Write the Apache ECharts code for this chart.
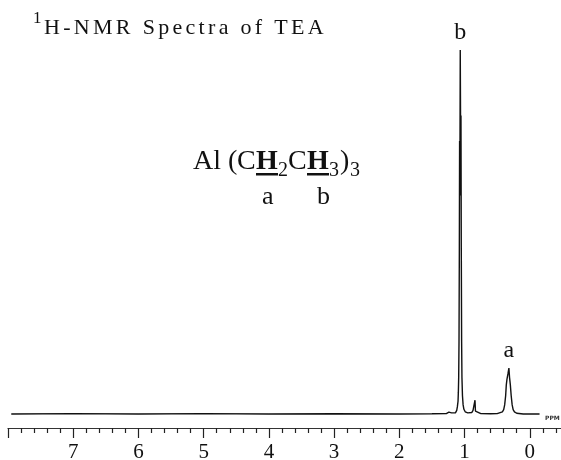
<!DOCTYPE html>
<html lang="en">

<head>
    <title>1H-NMR Spectra of TEA</title>
    <meta charset="UTF-8">
    <script src="https://cdn.jsdelivr.net/npm/echarts@6/dist/echarts.min.js"></script>
    <style>
        body { margin: 0; background: #fff; }
    </style>
</head>

<body>
    <div id="main" style="width: 561px;height:460px;"></div>
    <script>
        // chemical shift (ppm) of each sampled point of the trace
        var shifts = [7.95, 7.0, 6.0, 5.0, 4.0, 3.0, 2.0, 1.5, 1.28, 1.24, 1.22, 1.20, 1.17, 1.14, 1.12, 1.11, 1.10, 1.095,
            1.09, 1.085, 1.08, 1.076, 1.072, 1.066, 1.06, 1.055, 1.05, 1.045, 1.04, 1.032, 1.022, 1.01, 0.99, 0.95,
            0.89, 0.87, 0.855, 0.848, 0.84, 0.833, 0.82, 0.75, 0.6, 0.5, 0.47, 0.42, 0.40, 0.385, 0.37, 0.36, 0.35,
            0.335, 0.32, 0.31, 0.298, 0.285, 0.27, 0.255, 0.235, 0.2, 0.1, -0.15];
        // relative intensity (tallest line = 100)
        var intensity = [0, 0.1, 0, 0.1, 0, 0.05, 0, 0.05, 0.1, 0.5, 0.9, 0.3, 0.1, 0.3, 1.0, 2, 3.5, 6,
            10, 20, 45, 75, 60, 100, 75, 82, 45, 20, 10, 5, 2.5, 1.3, 0.6, 0.3,
            0.4, 1.0, 1.2, 1.0, 3.8, 0.8, 0.3, 0.1, 0.05, 0.1, 0.2, 0.6, 1.2, 2.5, 5, 8, 9.5,
            11, 12.6, 10, 8, 5, 2.5, 1.2, 0.6, 0.2, 0, 0];
        var peakNames = ['b', 'a'];
        var peakShifts = [1.066, 0.32];
        var peakHeights = [100, 12.6];
        var tickLabels = ['0', '1', '2', '3', '4', '5', '6', '7'];

        var serif = '"Liberation Serif", "DejaVu Serif", serif';
        var ink = '#111';

        var measureCtx = document.createElement('canvas').getContext('2d');

        // lay out a string char by char, the title is set with wide letter spacing
        function spacedText(str, x, y, size, spacing) {
            measureCtx.font = size + 'px ' + serif;
            var items = [];
            for (var i = 0; i < str.length; i++) {
                var ch = str[i];
                if (ch !== ' ') {
                    items.push({
                        type: 'text', x: x, y: y,
                        style: { text: ch, font: size + 'px ' + serif, fill: ink, verticalAlign: 'middle' }
                    });
                }
                x += measureCtx.measureText(ch).width + spacing;
            }
            return items;
        }

        function piece(text, x, y, size, bold) {
            return {
                type: 'text', x: x, y: y,
                style: {
                    text: text, font: (bold ? 'bold ' : '') + size + 'px ' + serif,
                    fill: ink, verticalAlign: 'middle'
                }
            };
        }

        var graphics = [piece('1', 33, 18.5, 17)].concat(spacedText('H-NMR Spectra of TEA', 44, 28, 22, 3.3));
        graphics.push(
            piece('Al', 193, 162, 28),
            piece('(', 228, 162, 28),
            piece('C', 237, 162, 28),
            piece('H', 256, 162, 28, true),
            piece('2', 278, 170.5, 20),
            piece('C', 288, 162, 28),
            piece('H', 307, 162, 28, true),
            piece('3', 329, 170.5, 20),
            piece(')', 340, 162, 28),
            piece('3', 350, 170.5, 20),
            { type: 'rect', shape: { x: 256, y: 173, width: 22, height: 2.5 }, style: { fill: ink } },
            { type: 'rect', shape: { x: 307, y: 173, width: 22, height: 2.5 }, style: { fill: ink } },
            piece('a', 262, 197, 26),
            piece('b', 317, 197, 26),
            {
                type: 'text', x: 545, y: 418,
                style: { text: 'PPM', font: 'bold 6px "DejaVu Sans", sans-serif', fill: '#333', verticalAlign: 'middle' }
            }
        );

        var points = shifts.map(function (s, i) { return [s, intensity[i]]; });
        var peakMarks = peakNames.map(function (n, i) {
            return { coord: [peakShifts[i], peakHeights[i]], value: n };
        });

        var myChart = echarts.init(document.getElementById('main'));
        var option = {
            backgroundColor: '#fff',
            animation: false,
            // the ppm scale runs on past the right edge of the picture
            grid: { left: 8, width: 587, top: 50, height: 378, outerBoundsMode: 'none', containLabel: false },
            xAxis: {
                type: 'value',
                inverse: true,
                min: -1,
                max: 8,
                interval: 1,
                axisLine: { onZero: false, lineStyle: { color: '#333', width: 1.2 } },
                axisTick: { length: 10, lineStyle: { color: '#222', width: 1.2 } },
                minorTick: { show: true, splitNumber: 5, length: 5, lineStyle: { color: '#222', width: 1.2 } },
                splitLine: { show: false },
                axisLabel: {
                    margin: 14,
                    fontFamily: serif,
                    fontSize: 21,
                    color: ink,
                    formatter: function (v) {
                        var k = tickLabels.indexOf(String(v));
                        return k < 0 ? '' : tickLabels[k];
                    }
                }
            },
            yAxis: {
                type: 'value',
                show: false,
                min: -3.85,
                max: 100
            },
            graphic: graphics,
            series: [{
                type: 'line',
                data: points,
                symbol: 'none',
                clip: false,
                lineStyle: { color: '#111', width: 1.4 },
                markPoint: {
                    symbol: 'rect',
                    symbolSize: 1,
                    itemStyle: { color: 'rgba(0,0,0,0)' },
                    label: {
                        show: true,
                        position: 'top',
                        distance: 5,
                        fontFamily: serif,
                        fontSize: 24,
                        color: ink,
                        formatter: '{c}'
                    },
                    data: peakMarks
                }
            }]
        };
        myChart.setOption(option);
    </script>
</body>

</html>
